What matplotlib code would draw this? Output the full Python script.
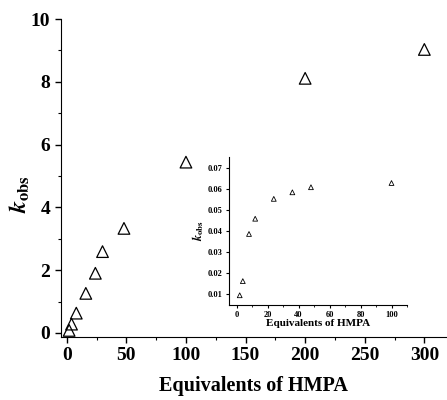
import matplotlib
matplotlib.use("Agg")
import matplotlib.pyplot as plt
from matplotlib.ticker import MultipleLocator

plt.rcParams['font.family'] = ['Liberation Serif', 'DejaVu Serif']
plt.rcParams['font.weight'] = 'bold'
plt.rcParams['mathtext.fontset'] = 'stix'

# Datos principales
equiv = [2, 4, 8, 16, 24, 30, 48, 100, 200, 300]
kobs = [0.08, 0.28, 0.63, 1.26, 1.9, 2.59, 3.33, 5.44, 8.11, 9.03]

# Datos del recuadro
equiv_ins = [2, 4, 8, 12, 24, 36, 48, 100]
kobs_ins = [0.0096, 0.0163, 0.0386, 0.0458, 0.0552, 0.0583, 0.0607, 0.0627]

fig = plt.figure(figsize=(4.47, 4.0), dpi=100)
ax = fig.add_axes([0.136, 0.1575, 0.864, 0.795])
ax.scatter(equiv, kobs, marker='^', s=70, facecolors='none', edgecolors='black', linewidths=0.9)
ax.set_xlim(-5, 319)
ax.set_ylim(-0.13, 10)
ax.spines['top'].set_visible(False)
ax.spines['right'].set_visible(False)
ax.xaxis.set_major_locator(MultipleLocator(50))
ax.xaxis.set_minor_locator(MultipleLocator(25))
ax.yaxis.set_major_locator(MultipleLocator(2))
ax.yaxis.set_minor_locator(MultipleLocator(1))
ax.tick_params(which='major', direction='out', length=4, width=1, labelsize=14)
ax.tick_params(which='minor', direction='out', length=2, width=0.8)
for lab in ax.get_xticklabels() + ax.get_yticklabels():
    lab.set_fontweight('bold')
ax.set_xlabel("Equivalents of HMPA", fontsize=14.5, fontweight='bold', labelpad=8)
ax.set_ylabel(r"$\mathit{k}_{\mathbf{obs}}$", fontsize=17)
ax.yaxis.set_label_coords(-0.075, 0.45)

# Recuadro
ins = fig.add_axes([0.512, 0.2375, 0.3985, 0.37])
ins.scatter(equiv_ins, kobs_ins, marker='^', s=12, facecolors='none', edgecolors='black', linewidths=0.6)
ins.set_xlim(-5, 110)
ins.set_ylim(0.005, 0.075)
ins.spines['top'].set_visible(False)
ins.spines['right'].set_visible(False)
ins.xaxis.set_major_locator(MultipleLocator(20))
ins.xaxis.set_minor_locator(MultipleLocator(10))
ins.yaxis.set_major_locator(MultipleLocator(0.01))
ins.tick_params(which='major', direction='out', length=2.5, width=0.8, labelsize=6, pad=2)
ins.tick_params(which='minor', direction='out', length=1.5, width=0.6)
for lab in ins.get_xticklabels() + ins.get_yticklabels():
    lab.set_fontweight('bold')
ins.set_xlabel("Equivalents of HMPA", fontsize=8, fontweight='bold', labelpad=0)
ins.set_ylabel(r"$\mathit{k}_{\mathbf{obs}}$", fontsize=9, labelpad=1)

fig.savefig("out.png", dpi=100)
